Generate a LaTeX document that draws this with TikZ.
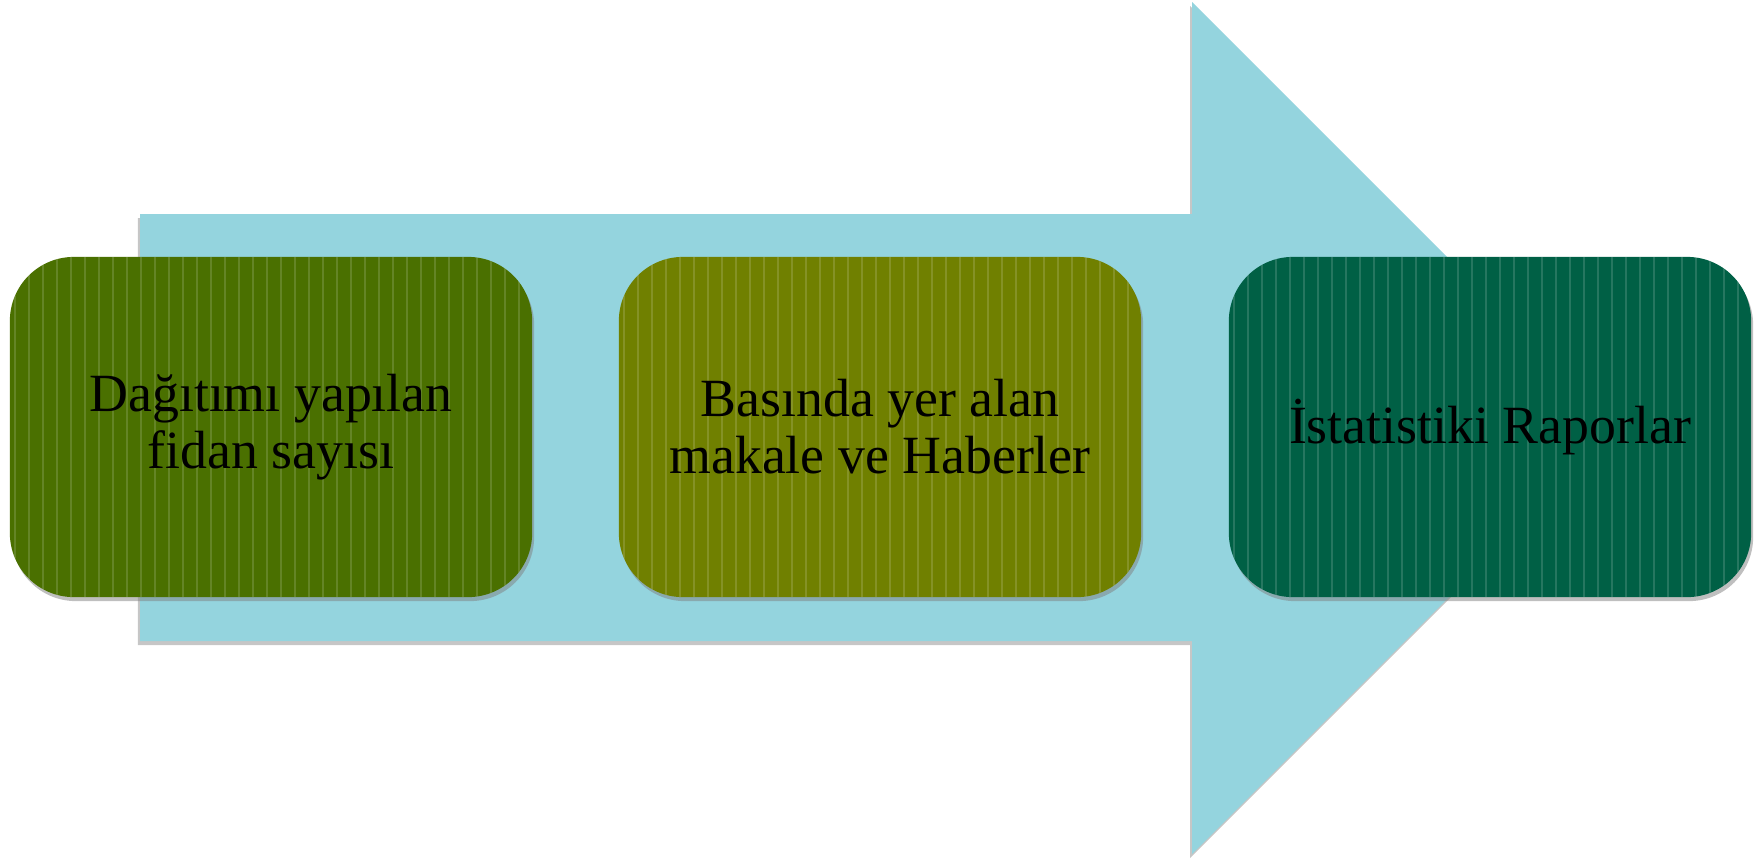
\documentclass[tikz,border=0pt]{standalone}
\usepackage{fontspec}
\setmainfont{Liberation Serif}
\usetikzlibrary{shadows}

\definecolor{arrowblue}{RGB}{148,212,222}
\definecolor{boxgreen}{RGB}{74,112,0}
\definecolor{boxolive}{RGB}{112,128,0}
\definecolor{boxteal}{RGB}{0,96,69}

\tikzset{
  stepcard/.style={rounded corners=0.64cm, minimum width=5.22cm, minimum height=3.40cm,
    inner sep=0pt, align=center, text=black,
    font=\fontsize{15.3}{16.2}\selectfont,
    drop shadow={shadow xshift=0.02cm, shadow yshift=-0.04cm, opacity=0.5},
    path picture={
      \foreach \k in {0,...,37}
        \draw[white, opacity=0.15, line width=0.025cm]
          ([xshift=\k*0.14cm+0.05cm]path picture bounding box.south west) --
          ([xshift=\k*0.14cm+0.05cm]path picture bounding box.north west);
    }},
  flowarrow/.style={fill=arrowblue,
    drop shadow={shadow xshift=-0.02cm, shadow yshift=-0.04cm, opacity=0.45}}
}

\begin{document}
\begin{tikzpicture}[x=0.01cm,y=-0.01cm]
\useasboundingbox (0,0) rectangle (1760,860);

% big arrow behind the cards
\path[flowarrow] (140,214) -- (1192,214) -- (1192,2) -- (1618,428)
  -- (1192,854) -- (1192,641) -- (140,641) -- cycle;

% cards
\node[stepcard, fill=boxgreen] (fidan) at (271,427) {Dağıtımı yapılan\\fidan sayısı};
\node[stepcard, fill=boxolive] (basin) at (880,427) {Basında yer alan\\makale ve Haberler};
\node[stepcard, fill=boxteal] (rapor) at (1490,427) {İstatistiki Raporlar};
\end{tikzpicture}
\end{document}
